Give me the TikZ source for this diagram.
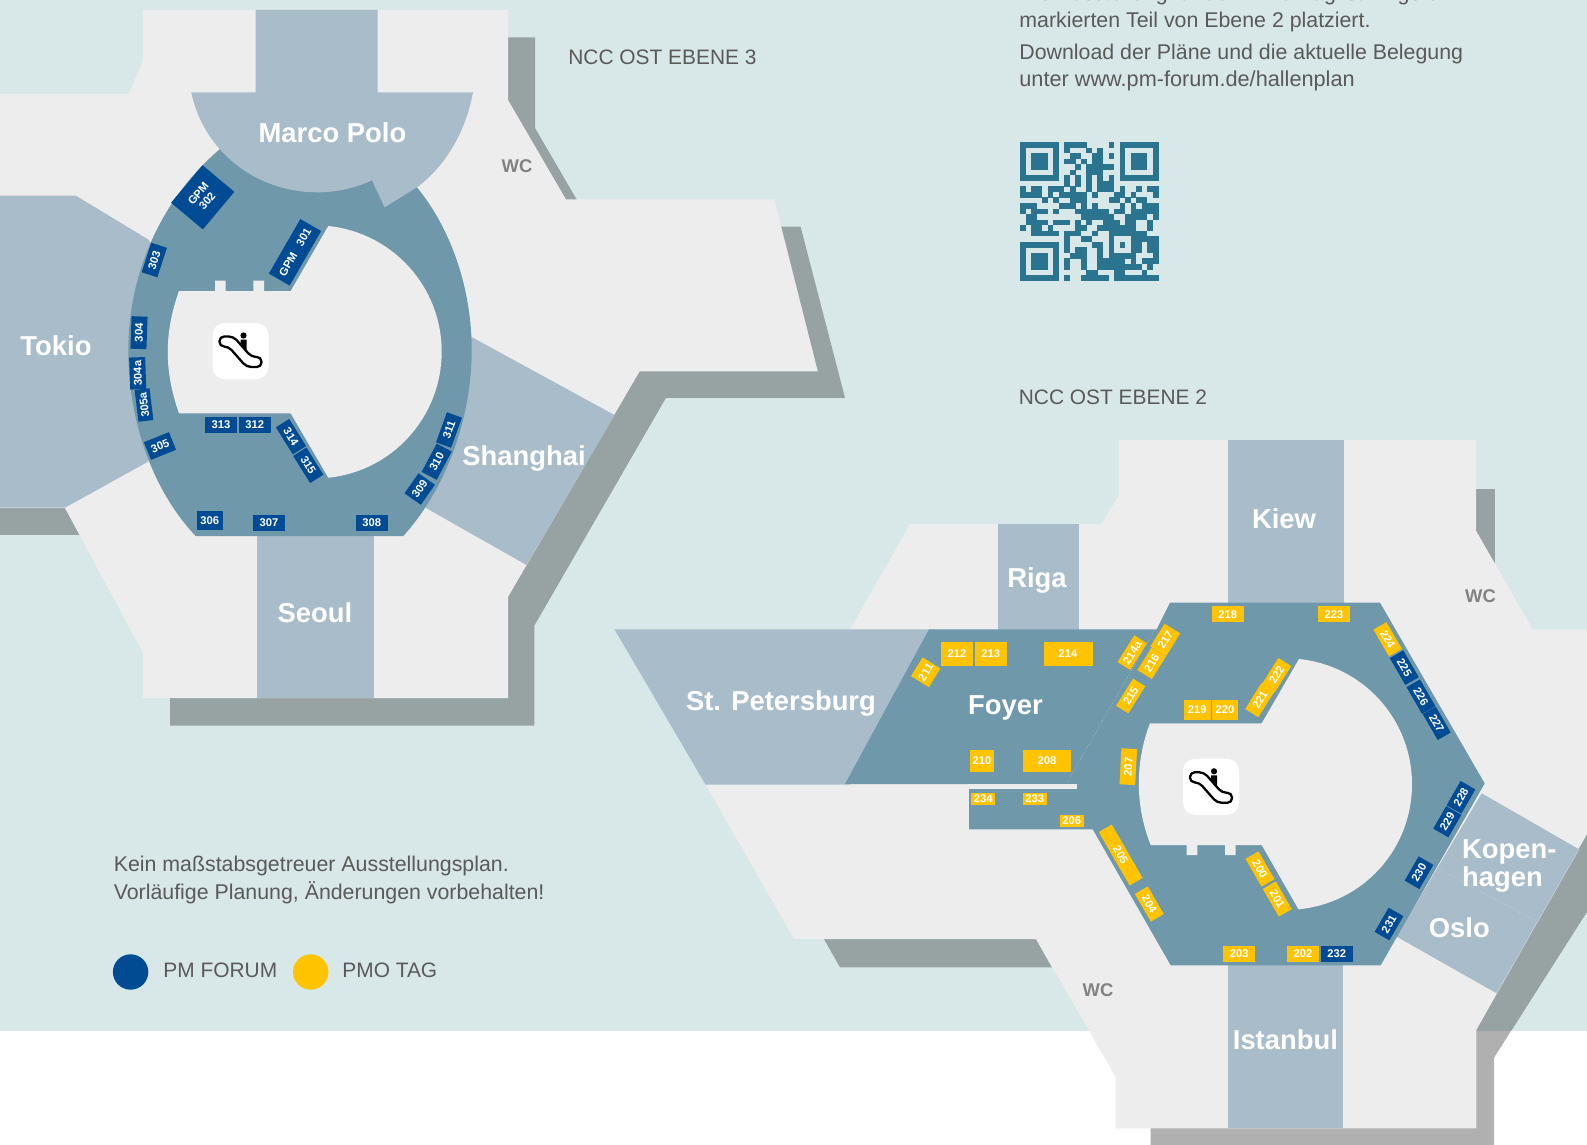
\documentclass[tikz,border=0pt]{standalone}
\usepackage{fontspec}
\setmainfont{Liberation Sans}
\definecolor{bgteal}{HTML}{D8E7E7}
\definecolor{floorgrey}{HTML}{EDEDED}
\definecolor{shadowteal}{HTML}{96A3A2}
\definecolor{shadowwhite}{HTML}{B0B0B0}
\definecolor{hallblue}{HTML}{A9BCCA}
\definecolor{ringblue}{HTML}{6F99AB}
\definecolor{pmblue}{HTML}{004B93}
\definecolor{pmoyellow}{HTML}{FFC300}
\definecolor{qrteal}{HTML}{2B7490}
\definecolor{bodytext}{HTML}{5A5A5A}
\definecolor{wcgrey}{HTML}{828282}
\tikzset{
  hallname/.style={font=\bfseries\fontsize{13.7}{13.6}\selectfont,text=white,inner sep=0pt},
  infotext/.style={font=\fontsize{10.67}{13.6}\selectfont,text=bodytext,inner sep=0pt,anchor=base west},
  captext/.style={infotext,font=\fontsize{10.45}{13.6}\selectfont},
  wclabel/.style={font=\bfseries\fontsize{9.2}{10}\selectfont,text=wcgrey,inner sep=0pt},
  boothbox/.style={font=\bfseries\fontsize{5.6}{6.2}\selectfont,text=white,inner sep=0pt,align=center},
  blueb/.style={boothbox,fill=pmblue},
  yellowb/.style={boothbox,fill=pmoyellow},
  escal/.pic={
    \fill[white,rounded corners=6pt] (-28,-28) rectangle (28,28);
    \draw[black,line width=1.15pt,rounded corners=2.3pt,line join=round]
      (-21,-14.5) -- (-7,-14.5) -- (11,6) -- (21,6) -- (21,16) -- (6,16) -- (-12,-4.5) -- (-21,-4.5) -- cycle;
    \fill[black] (3,-15.5) circle[radius=3.1];
    \fill[black] (0.2,-11.5) -- (6,-11.5) -- (6,1) -- (0.2,-5.5) -- cycle;
  }
}
\newcommand\booth[8]{\node[#7,minimum width=#4*0.5pt,minimum height=#5*0.5pt,rotate=#6] (#1) at (#2,#3) {#8};}
\newcount\qrcol
\def\qrscan#1{\ifx#1e\else\ifx#11\fill[qrteal] (1020+5.533*\the\qrcol,142+5.547*\qrrow) rectangle +(5.7,5.7);\fi\advance\qrcol by 1 \expandafter\qrscan\fi}
\begin{document}
\begin{tikzpicture}[x=0.5pt,y=-0.5pt]
\useasboundingbox (0,0) rectangle (1587,1145);
\clip (0,0) rectangle (1587,1145);
% background
\fill[white] (0,0) rectangle (1587,1145);
\fill[bgteal] (0,0) rectangle (1587,1030.7);
% shadows
\fill[shadowteal] (508,37.4) -- (535,37.4) -- (535,128) -- (577,200) -- (577,226.7) -- (800.6,226.7) -- (845,397.8) -- (666,397.8) -- (534.4,625.5) -- (534.4,725.7) -- (170,725.7) -- (170,690) -- (500,500) -- cycle;
\fill[shadowteal] (0,500) rectangle (90,535);
\fill[shadowteal] (1476,489.3) rectangle (1495.3,570);
\fill[shadowteal] (824,939) -- (840,967.3) -- (1051.7,967.3) -- (1036,939) -- cycle;
\fill[shadowwhite] (1587,800) -- (1587,911.7) -- (1494,1057.7) -- (1494,1145) -- (1150.7,1145) -- (1150.7,1100) -- (1476,1000) -- cycle;
\begin{scope}
\clip (0,0) rectangle (1587,1030.7);
\fill[shadowteal] (1587,800) -- (1587,911.7) -- (1494,1057.7) -- (1494,1145) -- (1400,1145) -- (1400,1000) -- (1476,1000) -- cycle;
\end{scope}
% floors
\fill[floorgrey] (143,10) -- (508,10) -- (508,100) -- (566,199.5) -- (774.3,199.5) -- (817.8,371.4) -- (639.6,371.4) -- (508,597) -- (508,698) -- (143,698) -- (143,653) -- (65,508) -- (0,508) -- (0,94) -- (128.5,94) -- (143,61) -- cycle;
\fill[floorgrey] (1118.5,440) -- (1476,440) -- (1476,530.7) -- (1532.7,629.4) -- (1587,629.4) -- (1587,834) -- (1476.3,1030) -- (1476.3,1128.3) -- (1115.7,1128.3) -- (1115.7,1076.7) -- (1036,939) -- (794,939) -- (705.5,784.5) -- (850,629.5) -- (910,524) -- (1101,524) -- (1118.5,496) -- cycle;
% level 3 halls behind the ring
\fill[hallblue] (0,195.7) -- (76,195.7) -- (149,240) -- (200,350) -- (148,461.7) -- (65,507.7) -- (0,507.7) -- cycle;
\fill[hallblue] (471,336.7) -- (614.5,415) -- (526.5,565) -- (426,508) -- (400,400) -- cycle;
\fill[hallblue] (256.7,530) rectangle (374,698);
% level 3 ring
\fill[ringblue] (195.7,536) .. controls (152,490) and (128.3,420) .. (128.3,350)
  .. controls (128.3,275) and (160,200) .. (220,149) -- (320,120) -- (416.7,187)
  .. controls (452,230) and (471.7,290) .. (471.7,350)
  .. controls (471.7,420) and (445,490) .. (403.3,536) -- cycle;
% level 3 hole
\fill[floorgrey] (179,291) -- (215,291) -- (215,280.7) -- (225.7,280.7) -- (225.7,291) -- (253.3,291) -- (253.3,280.7) -- (264,280.7) -- (264,291) -- (290.7,291) -- (328.3,226)
  .. controls (392.7,232.7) and (441.7,286.9) .. (441.7,351.7)
  .. controls (441.7,416.5) and (392.7,471.2) .. (328.3,477.7)
  -- (290.7,413.3) -- (179,413.3) .. controls (164,371) and (164,333) .. (179,291) -- cycle;
% Marco Polo
\fill[hallblue] (255.6,10) -- (377.7,10) -- (377.7,92.3) -- (473,92.3) .. controls (466,130) and (447,165) .. (417,187.3) -- (384.6,207.3) -- (372,180.3)
  .. controls (355,188) and (337,192.3) .. (317,192.3) .. controls (255,192.3) and (203,150) .. (191.3,92.3) -- (255.6,92.3) -- cycle;
% level 2 halls
\fill[hallblue] (1228,440) rectangle (1344,610);
\fill[hallblue] (998,524) rectangle (1079,635);
\fill[hallblue] (1228.3,960) rectangle (1342.7,1128.3);
\fill[hallblue] (614.5,629.4) -- (935,629.4) -- (850,784.5) -- (705.5,784.5) -- cycle;
\fill[hallblue] (1481.7,793.3) -- (1579,849.3) -- (1496.7,993.3) -- (1396.7,936.7) -- cycle;
\draw[hallblue!70!white,line width=0.3pt] (1579,849.3) -- (1496.7,993.3);
% level 2 ring
\fill[ringblue] (929,629.3) -- (1156.7,629.3) -- (1170,602.7) -- (1380,602.7) -- (1484.7,783.4) -- (1380.7,965.3) -- (1170.7,965.3) -- (1092.7,829.3) -- (969,829.3) -- (969,789) -- (1076.7,789) -- (1076.7,784) -- (845,784) -- cycle;
\fill[floorgrey] (967.7,784) rectangle (1076.7,789);
\draw[white,opacity=0.6,line width=0.25pt,densely dotted] (1155,629.3) -- (1066.7,783);
\draw[white,opacity=0.5,line width=0.25pt,densely dotted] (1438.3,868.3) -- (1536.7,921.7);
% level 2 hole
\fill[floorgrey] (1150,723.3) -- (1261.7,723.3) -- (1299,659)
  .. controls (1363.4,665.7) and (1412,719.5) .. (1412,784.3)
  .. controls (1412,849) and (1363.4,903) .. (1298.5,909.3)
  -- (1261.7,845) -- (1235.7,845) -- (1235.7,855) -- (1225,855) -- (1225,845) -- (1197.3,845) -- (1197.3,855) -- (1186.7,855) -- (1186.7,845) -- (1150.7,845)
  .. controls (1135,806) and (1135,762) .. (1150,723.3) -- cycle;
% escalators
\pic at (240.5,351) {escal};
\pic at (1211,786.8) {escal};
% QR code
\foreach \qrbits [count=\qrrowi from 0] in {
1111111011110000101111111,
1000001010001010001000001,
1011101001100110101011101,
1011101011010110001011101,
1011101000101111101011101,
1000001001001110001000001,
1111111010101010101111111,
0000000010101011100000000,
1011011101001011101001011,
1111010111110100011010001,
0000101001110000110101100,
1110000111010100001010111,
1011101000111111011011111,
0110000000011111100111101,
0111101110101001110110010,
1011010000110011111110010,
0011111011100100111111100,
0000000010011000100011111,
1111111010000110101011011,
1000001010110010100011011,
1011101001110010111110001,
1011101010010011111010111,
1011101010010011111111010,
1000001000001100011000100,
1111111010011111011111111}{
  \edef\qrrow{\qrrowi}\qrcol=0
  \expandafter\qrscan\qrbits e
}
% level 3 booths
\booth{g302}{202.7}{197.3}{49}{41.5}{50}{blueb}{GPM\\[-0.5pt]302}
\booth{g301}{295}{252.3}{63}{24}{60}{blueb}{GPM\hspace{4.5pt}301}
\booth{b303}{154.3}{260}{31}{16.5}{72}{blueb}{303}
\booth{b304}{139}{332.7}{32.5}{16}{88}{blueb}{304}
\booth{b304a}{137.7}{373.3}{32}{16}{92}{blueb}{304a}
\booth{b305a}{144}{405}{32}{15}{97}{blueb}{305a}
\booth{b305}{160}{446}{27}{19}{22}{blueb}{305}
\booth{b306}{209.7}{520.3}{26}{19.3}{0}{blueb}{306}
\booth{b307}{269}{522.7}{32}{15.7}{0}{blueb}{307}
\booth{b308}{371.7}{522.7}{32}{15.7}{0}{blueb}{308}
\booth{b309}{419.7}{489}{24.5}{20}{55}{blueb}{309}
\booth{b310}{436.7}{461.7}{32}{17}{62}{blueb}{310}
\booth{b311}{449}{430}{32}{16}{70}{blueb}{311}
\booth{b312}{254.7}{424.7}{32}{15.7}{0}{blueb}{312}
\booth{b313}{221}{424.7}{32.5}{15.7}{0}{blueb}{313}
\booth{b314}{291}{436.7}{32}{15.7}{-58}{blueb}{314}
\booth{b315}{308.3}{465.3}{32}{15.7}{-58}{blueb}{315}
% level 2 booths
\booth{b211}{925.7}{672.3}{22}{21}{58}{yellowb}{211}
\booth{b212}{957}{653.7}{32}{24}{0}{yellowb}{212}
\booth{b213}{990.7}{653.7}{32}{24}{0}{yellowb}{213}
\booth{b214}{1068}{653.7}{49}{24}{0}{yellowb}{214}
\booth{b214a}{1132.3}{652.7}{31.5}{15}{58}{yellowb}{214a}
\booth{b217}{1165.3}{640}{27}{18.5}{58}{yellowb}{217}
\booth{b216}{1151.7}{663.3}{26.5}{17}{58}{yellowb}{216}
\booth{b215}{1130.7}{696}{32}{14.5}{58}{yellowb}{215}
\booth{b218}{1227.7}{614.3}{32}{15.7}{0}{yellowb}{218}
\booth{b219}{1197.3}{710}{26.7}{20}{0}{yellowb}{219}
\booth{b220}{1225}{710}{26}{20}{0}{yellowb}{220}
\booth{b221}{1260}{700}{31}{15.5}{58}{yellowb}{221}
\booth{b222}{1276.7}{675}{30.6}{15.3}{58}{yellowb}{222}
\booth{b223}{1334}{614.3}{32}{15.7}{0}{yellowb}{223}
\booth{b224}{1387.7}{639.3}{31}{15}{-60}{yellowb}{224}
\booth{b225}{1404.3}{667.7}{31}{15.5}{-60}{blueb}{225}
\booth{b226}{1421}{696.7}{31}{15.5}{-60}{blueb}{226}
\booth{b227}{1436.7}{723.3}{30}{15}{-60}{blueb}{227}
\booth{b207}{1128.3}{766.7}{36}{15.7}{87}{yellowb}{207}
\booth{b208}{1047}{761}{48}{21.7}{0}{yellowb}{208}
\booth{b210}{982}{761}{23.7}{21.7}{0}{yellowb}{210}
\booth{b234}{983.3}{799}{24}{12}{0}{yellowb}{234}
\booth{b233}{1034.7}{799}{24}{12}{0}{yellowb}{233}
\booth{b206}{1071.7}{820.7}{24}{12}{0}{yellowb}{206}
\booth{b205}{1120.7}{855}{61.7}{15}{-60}{yellowb}{205}
\booth{b204}{1149.3}{904}{32}{15}{-60}{yellowb}{204}
\booth{b203}{1239.3}{954}{32}{15.7}{0}{yellowb}{203}
\booth{b202}{1303}{954}{32.7}{15.7}{0}{yellowb}{202}
\booth{b232}{1336.7}{954}{32}{15.7}{0}{blueb}{232}
\booth{b200}{1260}{869}{32}{15}{-60}{yellowb}{200}
\booth{b201}{1277.3}{899}{32}{15}{-60}{yellowb}{201}
\booth{b228}{1461}{797.3}{28}{17}{60}{blueb}{228}
\booth{b229}{1447.3}{821.7}{26}{17.5}{60}{blueb}{229}
\booth{b230}{1419}{872.7}{28}{17}{60}{blueb}{230}
\booth{b231}{1389}{924}{28}{17}{60}{blueb}{231}
% hall names
\node[hallname] (marco) at (332.5,132.6) {Marco Polo};
\node[hallname] (tokio) at (56,346) {Tokio};
\node[hallname] (shanghai) at (524,458.5) {Shanghai};
\node[hallname] (seoul) at (315,613) {Seoul};
\node[hallname] (kiew) at (1284,519) {Kiew};
\node[hallname] (riga) at (1037,580) {Riga};
\node[hallname] (petersburg) at (781,703.5) {St. Petersburg};
\node[hallname] (foyer) at (1005.5,708.4) {Foyer};
\node[hallname,align=left,anchor=west] (kopen) at (1461.7,866) {Kopen-\\hagen};
\node[hallname] (oslo) at (1459.3,927.7) {Oslo};
\node[hallname] (istanbul) at (1285.4,1039.4) {Istanbul};
\node[wclabel] (wc3) at (517,166) {WC};
\node[wclabel] (wc2a) at (1480.5,596) {WC};
\node[wclabel] (wc2b) at (1098,990) {WC};
% texts
\node[captext] (ebene3) at (568,64.5) {NCC OST EBENE 3};
\node[captext] (ebene2) at (1018.5,404.5) {NCC OST EBENE 2};
\node[infotext] (info1) at (1019,0.5) {Die Ausstellung für den PMO-Tag ist im gelb};
\node[infotext] (info2) at (1019,27.5) {markierten Teil von Ebene 2 platziert.};
\node[infotext] (info3) at (1019,59.5) {Download der Pläne und die aktuelle Belegung};
\node[infotext,font=\fontsize{10.85}{13.6}\selectfont] (info4) at (1019,86.5) {unter www.pm-forum.de/hallenplan};
\node[infotext] (note1) at (113.4,871.5) {Kein maßstabsgetreuer Ausstellungsplan.};
\node[infotext] (note2) at (113.4,899) {Vorläufige Planung, Änderungen vorbehalten!};
% legend
\node[circle,fill=pmblue,minimum size=17.7pt,inner sep=0pt] (dotpm) at (130.6,972) {};
\node[circle,fill=pmoyellow,minimum size=17.7pt,inner sep=0pt] (dotpmo) at (310.7,972) {};
\node[captext] (legpm) at (163,977) {PM FORUM};
\node[captext] (legpmo) at (342,977) {PMO TAG};
\end{tikzpicture}
\end{document}
